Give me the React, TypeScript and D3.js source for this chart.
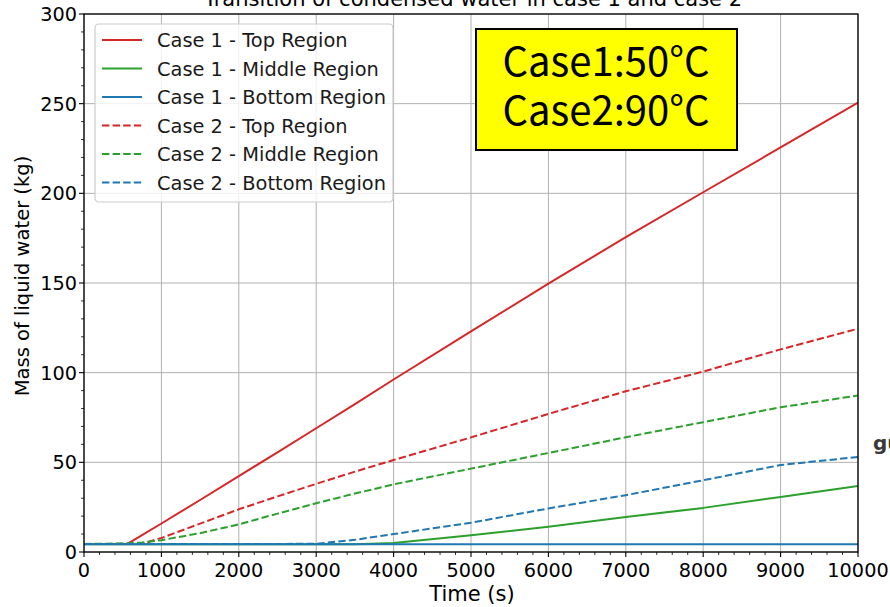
import React from "react";
import * as d3 from "d3";

const W = 890;
const H = 607;

const TITLE = "Transition of condensed water in case 1 and case 2";
const X_LABEL = "Time (s)";
const Y_LABEL = "Mass of liquid water (kg)";
const X_TICKS = [0, 1000, 2000, 3000, 4000, 5000, 6000, 7000, 8000, 9000, 10000];
const Y_TICKS = [0, 50, 100, 150, 200, 250, 300];

const TIMES = [0, 250, 560, 750, 1000, 1500, 2000, 2500, 3000, 3500, 4000, 5000, 6000, 7000, 8000, 9000, 10000];

const CASE1_TOP = [4.5, 4.5, 4.5, 9.4, 15.9, 29.0, 42.3, 55.6, 69.0, 82.5, 96.2, 123.0, 149.6, 175.6, 200.6, 225.6, 250.6];
const CASE1_MIDDLE = [4.3, 4.3, 4.3, 4.3, 4.3, 4.3, 4.3, 4.3, 4.3, 4.3, 5.0, 9.3, 14.1, 19.5, 24.6, 30.7, 36.8];
const CASE1_BOTTOM = [4.3, 4.3, 4.3, 4.3, 4.3, 4.3, 4.3, 4.3, 4.3, 4.3, 4.3, 4.3, 4.3, 4.3, 4.3, 4.3, 4.3];
const CASE2_TOP = [4.5, 4.5, 4.5, 4.6, 7.8, 15.8, 23.8, 31.0, 38.0, 44.8, 51.3, 63.9, 77.0, 89.6, 100.6, 113.0, 124.5];
const CASE2_MIDDLE = [4.5, 4.6, 4.9, 5.3, 6.6, 10.5, 15.4, 21.4, 27.2, 32.6, 37.7, 46.5, 55.2, 64.0, 72.4, 80.7, 87.3];
const CASE2_BOTTOM = [4.5, 4.5, 4.5, 4.5, 4.5, 4.5, 4.5, 4.5, 4.6, 6.8, 10.0, 16.3, 24.3, 31.7, 40.0, 48.5, 53.0];

const SERIES_NAMES = [
  "Case 1 - Top Region",
  "Case 1 - Middle Region",
  "Case 1 - Bottom Region",
  "Case 2 - Top Region",
  "Case 2 - Middle Region",
  "Case 2 - Bottom Region",
];
const SERIES_VALUES = [CASE1_TOP, CASE1_MIDDLE, CASE1_BOTTOM, CASE2_TOP, CASE2_MIDDLE, CASE2_BOTTOM];
const SERIES_COLORS = ["#d62728", "#2ca02c", "#1f77b4", "#d62728", "#2ca02c", "#1f77b4"];
const SERIES_DASHED = [false, false, false, true, true, true];

const NOTE_LINES = ["Case1:50°C", "Case2:90°C"];

const FONT = "'DejaVu Sans', sans-serif";

export default function App() {
  const left = 84, right = 858, top = 14, bottom = 552;
  const x = d3.scaleLinear().domain([0, 10000]).range([left, right]);
  const y = d3.scaleLinear().domain([0, 300]).range([bottom, top]);

  const xMinor = d3.range(0, 10001, 200).filter((v) => v % 1000 !== 0);
  const yMinor = d3.range(0, 301, 10).filter((v) => v % 50 !== 0);

  const line = d3
    .line<[number, number]>()
    .x((d) => x(d[0]))
    .y((d) => y(d[1]));

  const legendX = 95, legendY = 24, legendW = 298, legendH = 178;
  const rowStart = 40, rowStep = 28.5;

  return (
    <div style={{ position: "fixed", left: 0, top: 0, width: W, height: H, background: "#fff" }}>
      <svg width={W} height={H} style={{ display: "block" }} fontFamily={FONT}>
        <defs>
          <clipPath id="plotclip">
            <rect x={left} y={top} width={right - left} height={bottom - top} />
          </clipPath>
        </defs>
        <rect x={0} y={0} width={W} height={H} fill="#fff" />
        {/* grid */}
        {X_TICKS.map((t) => (
          <line key={"gx" + t} x1={x(t)} x2={x(t)} y1={top} y2={bottom} stroke="#b0b0b0" strokeWidth={1} />
        ))}
        {Y_TICKS.map((t) => (
          <line key={"gy" + t} x1={left} x2={right} y1={y(t)} y2={y(t)} stroke="#b0b0b0" strokeWidth={1} />
        ))}
        {/* series */}
        <g clipPath="url(#plotclip)">
          {SERIES_VALUES.map((vals, i) => (
            <path
              key={"s" + i}
              d={line(TIMES.map((t, j) => [t, vals[j]] as [number, number])) || ""}
              fill="none"
              stroke={SERIES_COLORS[i]}
              strokeWidth={2}
              strokeLinejoin="round"
              strokeDasharray={SERIES_DASHED[i] ? "7.4,3.2" : undefined}
            />
          ))}
        </g>
        {/* spines */}
        <rect x={left} y={top} width={right - left} height={bottom - top} fill="none" stroke="#000" strokeWidth={1.3} />
        {/* ticks */}
        {X_TICKS.map((t) => (
          <g key={"xt" + t}>
            <line x1={x(t)} x2={x(t)} y1={bottom} y2={bottom + 5} stroke="#000" strokeWidth={1.1} />
            <text x={x(t)} y={577} textAnchor="middle" fontSize={19.3} fill="#000">
              {String(t)}
            </text>
          </g>
        ))}
        {xMinor.map((t) => (
          <line key={"xm" + t} x1={x(t)} x2={x(t)} y1={bottom} y2={bottom + 3} stroke="#000" strokeWidth={0.8} />
        ))}
        {Y_TICKS.map((t) => (
          <g key={"yt" + t}>
            <line x1={left - 5} x2={left} y1={y(t)} y2={y(t)} stroke="#000" strokeWidth={1.1} />
            <text x={77} y={y(t) + 7} textAnchor="end" fontSize={19.3} fill="#000">
              {String(t)}
            </text>
          </g>
        ))}
        {yMinor.map((t) => (
          <line key={"ym" + t} x1={left - 3} x2={left} y1={y(t)} y2={y(t)} stroke="#000" strokeWidth={0.8} />
        ))}
        {/* labels */}
        <text x={472} y={601} textAnchor="middle" fontSize={21} fill="#000">
          {X_LABEL}
        </text>
        <text transform={`translate(29,276) rotate(-90)`} textAnchor="middle" fontSize={19.5} fill="#000">
          {Y_LABEL}
        </text>
        <text x={473} y={6} textAnchor="middle" fontSize={21} fill="#000">
          {TITLE}
        </text>
        {/* legend */}
        <rect x={legendX} y={legendY} width={legendW} height={legendH} rx={4} fill="#fff" fillOpacity={0.8} stroke="#cccccc" strokeWidth={1.2} />
        {SERIES_NAMES.map((name, i) => {
          const ry = rowStart + i * rowStep;
          return (
            <g key={"lg" + i}>
              <line
                x1={102}
                x2={142}
                y1={ry}
                y2={ry}
                stroke={SERIES_COLORS[i]}
                strokeWidth={2}
                strokeDasharray={SERIES_DASHED[i] ? "7.4,3.2" : undefined}
              />
              <text x={157} y={ry + 7} fontSize={19.4} fill="#1a1a1a">
                {name}
              </text>
            </g>
          );
        })}
        {/* note box */}
        <rect x={476} y={29} width={261} height={121} fill="#ffff00" stroke="#000" strokeWidth={2} />
        {NOTE_LINES.map((s, i) => (
          <text
            key={"n" + i}
            x={606}
            y={76 + i * 49}
            textAnchor="middle"
            fontSize={40}
            fontFamily="'Noto Sans CJK JP', 'Noto Sans', sans-serif"
            fill="#000"
          >
            {s}
          </text>
        ))}
        <text x={873} y={450} fontSize={20} fontWeight="bold" fill="#3a3a3a">
          gu
        </text>
      </svg>
    </div>
  );
}
